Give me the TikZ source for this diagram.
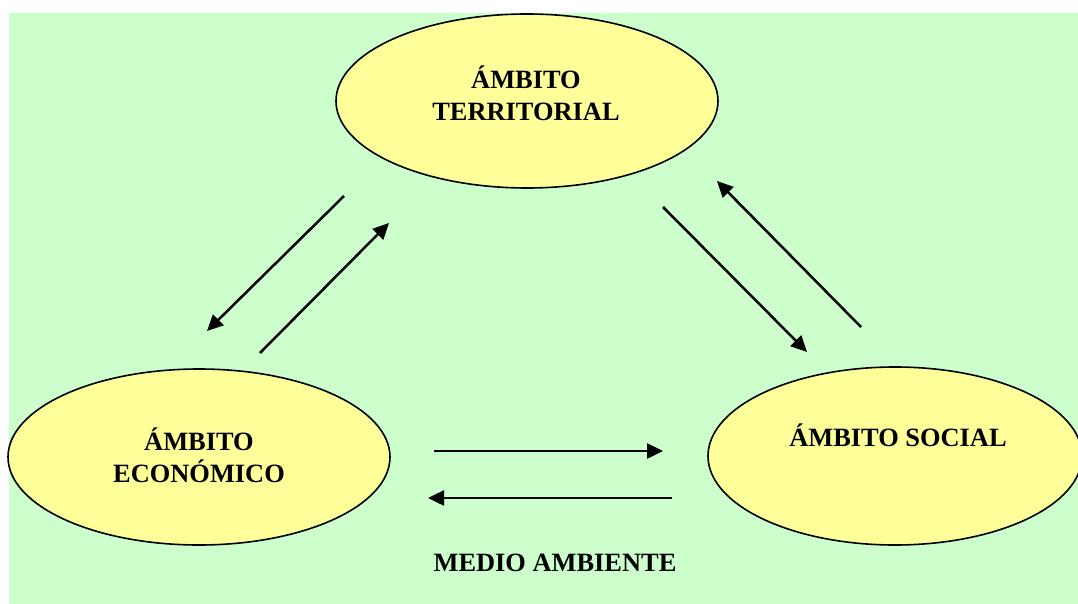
\documentclass[tikz,border=0pt]{standalone}
\usepackage{fontspec}
\setmainfont{Liberation Serif}
\usetikzlibrary{arrows.meta,shapes.geometric}
\definecolor{bggreen}{HTML}{CCFFCC}
\definecolor{ellyellow}{HTML}{FFFF99}
\begin{document}
\begin{tikzpicture}[x=1pt,y=-1pt,
  ambito/.style={draw=black,line width=1.6pt,fill=ellyellow,ellipse,inner sep=0pt},
  lbl/.style={anchor=base,inner sep=0pt,font=\fontsize{26.4}{32}\selectfont\bfseries},
  flow/.style={line width=2.5pt,-{Triangle[length=16pt,width=15pt]}}]
\useasboundingbox (0,0) rectangle (1078,604);
\fill[bggreen] (9,13) rectangle (1078,604);
% ellipses
\node[ambito,minimum width=382pt,minimum height=174pt] (terr) at (527,101) {};
\node[ambito,minimum width=382pt,minimum height=176pt] (econ) at (199,457) {};
\node[ambito,minimum width=374pt,minimum height=178pt] (soc) at (895,456) {};
% texts
\node[lbl] (terr1) at (526,89) {ÁMBITO};
\node[lbl] (terr2) at (526,121) {TERRITORIAL};
\node[lbl] (econ1) at (199,450) {ÁMBITO};
\node[lbl] (econ2) at (199,482) {ECONÓMICO};
\node[lbl] (soc1) at (898,446) {ÁMBITO SOCIAL};
\node[lbl] (medio) at (555,571) {MEDIO AMBIENTE};
% arrow end points
\coordinate (a1s) at (344,196); \coordinate (a1e) at (207,331);
\coordinate (a2s) at (260,353); \coordinate (a2e) at (389,223);
\coordinate (a3s) at (663,207); \coordinate (a3e) at (807,352);
\coordinate (a4s) at (861,327); \coordinate (a4e) at (717,181);
\coordinate (a5s) at (434,451); \coordinate (a5e) at (663,451);
\coordinate (a6s) at (672,498); \coordinate (a6e) at (428,498);
\draw[flow] (a1s) -- (a1e);
\draw[flow] (a2s) -- (a2e);
\draw[flow] (a3s) -- (a3e);
\draw[flow] (a4s) -- (a4e);
\draw[flow] (a5s) -- (a5e);
\draw[flow] (a6s) -- (a6e);
\end{tikzpicture}
\end{document}
